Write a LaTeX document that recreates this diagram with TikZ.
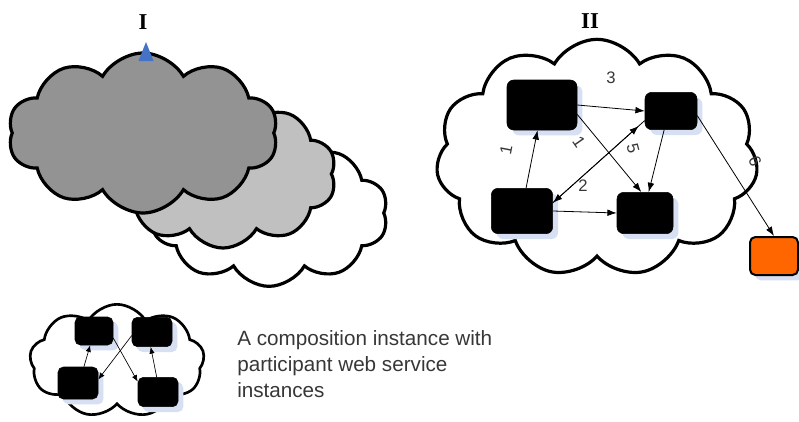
\documentclass[tikz,border=0pt]{standalone}
\usepackage{fontspec}
\setmainfont{Liberation Sans}
\newfontfamily\titlefont{Liberation Serif}
\usepackage{xcolor}
\usetikzlibrary{shapes.symbols,shadows,arrows.meta}
\definecolor{darkcloud}{RGB}{147,147,147}
\definecolor{lightcloud}{RGB}{192,192,192}
\definecolor{shadowblue}{RGB}{214,224,242}
\definecolor{handleblue}{RGB}{68,114,196}
\definecolor{outorange}{RGB}{255,102,0}
\definecolor{labelgray}{RGB}{55,55,55}
\tikzstyle{cloudy}=[
    cloud,
    cloud puffs=10,
    cloud puff arc=120,
    cloud ignores aspect,
    draw=black,
    line width=2.4pt,
    fill=white,
    inner sep=0pt]
\tikzstyle{service}=[
    rectangle,
    rounded corners=5pt,
    fill=black,
    draw=black,
    inner sep=0pt,
    drop shadow={shadow xshift=4pt,shadow yshift=-4pt,fill=shadowblue,opacity=1}]
\tikzstyle{flow}=[-{Latex[length=7pt,width=5pt]},line width=0.6pt]
\tikzstyle{smallflow}=[-{Latex[length=5pt,width=4pt]},line width=0.5pt]
\tikzstyle{num}=[font=\fontsize{12.5}{14}\selectfont,text=labelgray,inner sep=1pt]

\begin{document}
\begin{tikzpicture}[x=0.75pt,y=0.75pt,yscale=-1,xscale=1]
\useasboundingbox (0,0) rectangle (799,421);

%Shape: Cloud stack I
\node [cloudy,minimum width=178.5pt,minimum height=110pt] (white) at (269,213) {};
\node [cloudy,fill=lightcloud,minimum width=170pt,minimum height=111pt] (light) at (223,174) {};
\node [cloudy,fill=darkcloud,minimum width=202.5pt,minimum height=120pt] (dark) at (143,133) {};
%Shape: Handle
\fill [handleblue] (146,42) -- (153.5,61) -- (138.5,61) -- cycle;

%Shape: Cloud II
\node [cloudy,cloud puffs=11,minimum width=241.5pt,minimum height=178pt] (comp) at (597,158) {};
\node [service,minimum width=52.5pt,minimum height=37.5pt] (wsA) at (542,105) {};
\node [service,minimum width=39pt,minimum height=28pt] (wsB) at (671,111) {};
\node [service,minimum width=46pt,minimum height=34pt] (wsC) at (522,211) {};
\node [service,minimum width=42pt,minimum height=31pt] (wsD) at (645,213) {};
\node [service,fill=outorange,line width=1.5pt,rounded corners=4pt,minimum width=36pt,minimum height=28.5pt] (wsOut) at (774,256) {};

%Straight Lines
\draw [flow] (wsA.east) -- (wsB.west);
\draw [flow] (wsA.-15) -- (wsD.100);
\draw [flow] (wsC.80) -- (wsA.260);
\draw [flow] (wsB.200) -- (wsC.15);
\draw [flow,shorten >=6pt] (wsC.15) -- (wsB.200);
\draw [flow] (wsB.250) -- (wsD.80);
\draw [flow] (wsC.east) -- (wsD.west);
\draw [flow] (wsB.-10) -- (wsOut.north);

% Text Node
\node [num] (l3) at (611,78) {3};
\node [num,rotate=79] (l1a) at (506,150) {1};
\node [num,rotate=-55] (l1b) at (579,142) {1};
\node [num,rotate=-75] (l5) at (633,149) {5};
\node [num] (l2) at (583,186) {2};
\node [num,rotate=-65] (l6) at (755,161) {6};

% Text Node
\node [font=\titlefont\bfseries\fontsize{17}{18}\selectfont] (t1) at (143,22) {I};
\node [font=\titlefont\bfseries\fontsize{17}{18}\selectfont] (t2) at (590,21) {II};

%Shape: Legend cloud
\node [cloudy,cloud puffs=9,line width=2pt,minimum width=131pt,minimum height=85pt] (legend) at (117,361) {};
\node [service,rounded corners=4pt,drop shadow={shadow xshift=3pt,shadow yshift=-3pt,fill=shadowblue,opacity=1},minimum width=28.5pt,minimum height=21pt] (sTL) at (94,331) {};
\node [service,rounded corners=4pt,drop shadow={shadow xshift=3pt,shadow yshift=-3pt,fill=shadowblue,opacity=1},minimum width=30pt,minimum height=22pt] (sTR) at (152,332) {};
\node [service,rounded corners=4pt,drop shadow={shadow xshift=3pt,shadow yshift=-3pt,fill=shadowblue,opacity=1},minimum width=30pt,minimum height=24pt] (sBL) at (78,383) {};
\node [service,rounded corners=4pt,drop shadow={shadow xshift=3pt,shadow yshift=-3pt,fill=shadowblue,opacity=1},minimum width=30pt,minimum height=22pt] (sBR) at (158,392) {};
\draw [smallflow] (sBL.70) -- (sTL.255);
\draw [smallflow] (sTR.190) -- (sBL.10);
\draw [smallflow] (sTL.-20) -- (sBR.153);
\draw [smallflow] (sBR.95) -- (sTR.265);

% Text Node
\node [anchor=north west,inner sep=0pt,align=left,text=labelgray,font=\fontsize{15.5}{19.5}\selectfont] (caption) at (237,330) {A composition instance with\\participant web service\\instances};

\end{tikzpicture}
\end{document}
